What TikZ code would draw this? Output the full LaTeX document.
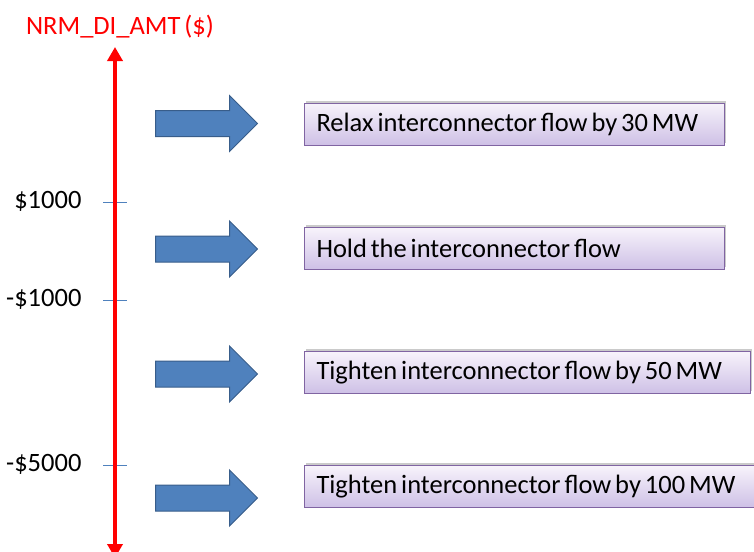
\documentclass[tikz,border=0pt]{standalone}
\usepackage{fontspec}
\setmainfont{Carlito}[WordSpace=0.65]
\usetikzlibrary{shapes, arrows.meta, shadows, positioning}
\definecolor{axisred}{RGB}{255,0,0}
\definecolor{tickblue}{RGB}{79,129,189}
\definecolor{arrowfill}{RGB}{79,129,189}
\definecolor{arrowline}{RGB}{56,93,138}
\definecolor{boxline}{RGB}{128,100,162}
\definecolor{boxtop}{RGB}{247,243,251}
\definecolor{boxbottom}{RGB}{206,192,230}

\newcommand{\actiontext}[2]{\makebox[#1pt][l]{#2}}

\tikzset{
  bigfont/.style={font=\fontsize{26.5}{31}\selectfont},
  action/.style={bigfont, draw=boxline, line width=1, top color=boxtop, bottom color=boxbottom,
    minimum height=42, inner xsep=12, inner ysep=0, anchor=west,
    drop shadow={shadow xshift=1, shadow yshift=-2.5, opacity=0.35, fill=black!60}},
  blockarrow/.style={shape=single arrow, fill=arrowfill, draw=arrowline, line width=1,
    inner sep=0, text height=25, text depth=0, minimum height=102, minimum width=55,
    single arrow head extend=15, single arrow tip angle=90, anchor=tail},
  axisline/.style={axisred, line width=3.5, {Triangle[length=14, width=15]}-{Triangle[length=14, width=15]}},
  tickline/.style={tickblue, line width=1}
}

\begin{document}
\begin{tikzpicture}[x=1pt, y=-1pt]
    \useasboundingbox (0,0) rectangle (754,551);

    \node[bigfont, text=axisred] (title) at (120,27) {NRM\_DI\_AMT (\$)};
    \coordinate (axtop) at (115,47);
    \coordinate (axbot) at (115,558);

    \foreach \yy/\lbl/\nm in {202/\$1000/hi, 300/-\$1000/mid, 465/-\$5000/lo} {
        \draw[tickline] (103,\yy) -- (127,\yy);
        \node[bigfont, anchor=east] (tick\nm) at (85,\yy-1) {\lbl};
    }
    \draw[axisline] (axtop) -- (axbot);

    \node[blockarrow] (arrA) at (155,123.5) {};
    \node[blockarrow] (arrB) at (155,249) {};
    \node[blockarrow] (arrC) at (155,374) {};
    \node[blockarrow] (arrD) at (155,498) {};

    \node[action] (relax) at (304,124) {\actiontext{396}{Relax interconnector flow by 30 MW}};
    \node[action] (hold) at (304,248.5) {\actiontext{396}{Hold the interconnector flow}};
    \node[action] (tight) at (304,372.5) {\actiontext{422}{Tighten interconnector flow by 50 MW}};
    \node[action] (tighter) at (304,486.5) {\actiontext{430}{Tighten interconnector flow by 100 MW}};
\end{tikzpicture}
\end{document}
